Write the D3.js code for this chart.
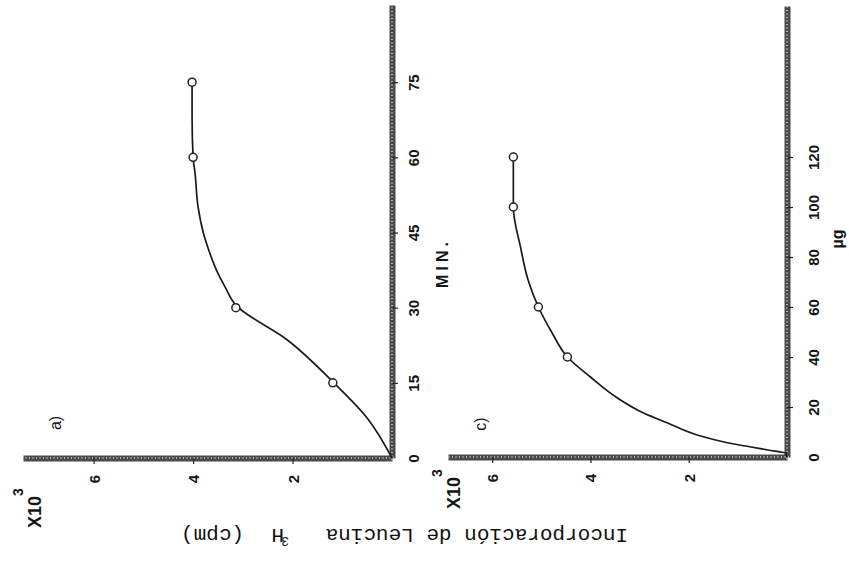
<!DOCTYPE html>
<html>
<head>
<meta charset="utf-8">
<title>Incorporación de Leucina 3H</title>
<script src="https://cdn.jsdelivr.net/npm/d3@7"></script>
<style>
  body { margin: 0; background: #fff; }
  svg { display: block; }
  .tick text, .lbl { font-family: "Liberation Sans", Arial, sans-serif; font-size: 15px; font-weight: bold; fill: #151515; }
  .tick line { stroke: #222; stroke-width: 1.2; }
  .mono { font-family: "Liberation Mono", "Courier New", monospace; font-size: 21px; fill: #111; }
</style>
</head>
<body>
<div id="chart"></div>
<script>
// the page is scanned rotated: time/dose runs up, cpm runs left

// a) cpm (x10^3) vs minutes
const minutosA = [15, 30, 60, 75];
const cpmA = [1.19, 3.14, 4.0, 4.02];
// hand drawn curve
const curvaMinA = [0, 8, 15.2, 23.6, 30.5, 34.2, 37.5, 40.8, 44.8, 50.1, 56.8, 60.1, 68, 75.2];
const curvaCpmA = [0, 0.5, 1.19, 2.11, 3.14, 3.36, 3.53, 3.66, 3.79, 3.9, 3.96, 4.0, 4.02, 4.02];
const ticksMinA = [0, 15, 30, 45, 60, 75];

// c) cpm (x10^3) vs µg
const ugC = [40, 60, 100, 120];
const cpmC = [4.47, 5.06, 5.57, 5.57];
const curvaUgC = [0, 1.5, 2.8, 4.1, 5.2, 8.4, 13.6, 17.6, 23.6, 32, 40, 49.6, 60, 70.8, 83.6, 100, 120];
const curvaCpmC = [0, 0.02, 0.39, 0.76, 1.08, 1.76, 2.43, 2.92, 3.45, 4.0, 4.47, 4.78, 5.06, 5.27, 5.42, 5.57, 5.57];
const ticksUgC = [0, 20, 40, 60, 80, 100, 120];

const ticksCpm = [2, 4, 6];

const W = 849, H = 563;
const svg = d3.select("#chart").append("svg")
    .attr("width", W)
    .attr("height", H);

function texture(g, x1, y1, x2, y2) {
    g.append("line")
        .attr("x1", x1).attr("y1", y1).attr("x2", x2).attr("y2", y2)
        .attr("stroke", "#d6d6d6")
        .attr("stroke-width", 1.6)
        .attr("stroke-dasharray", "1 2.5");
}

function panel(p) {
    const t = d3.scaleLinear().domain(p.tDomain).range(p.tRange);
    const v = d3.scaleLinear().domain(p.vDomain).range(p.vRange);
    const g = svg.append("g");

    // time / dose axis (vertical in the scan)
    const ta = g.append("g")
        .attr("transform", `translate(${p.vRange[0]},0)`)
        .call(d3.axisRight(t).tickValues(p.tTicks).tickFormat(d3.format("d"))
            .tickSize(6).tickSizeOuter(0));
    ta.selectAll(".tick text")
        .attr("x", null).attr("dy", null)
        .attr("text-anchor", "middle")
        .attr("dominant-baseline", "central")
        .attr("transform", `translate(${p.tLabelOff},0) rotate(-90)`);
    ta.select(".tick line").remove();

    // cpm axis (horizontal in the scan)
    const va = g.append("g")
        .attr("transform", `translate(0,${p.tRange[0]})`)
        .call(d3.axisBottom(v).tickValues(ticksCpm).tickFormat(d3.format("d"))
            .tickSize(6).tickSizeOuter(0));
    va.selectAll(".tick text")
        .attr("y", null).attr("dy", null)
        .attr("text-anchor", "middle")
        .attr("dominant-baseline", "central")
        .attr("transform", "translate(0,21) rotate(-90)");

    [ta, va].forEach(a => a.select(".domain")
        .attr("stroke", "#4a4a4a")
        .attr("stroke-width", 6));
    texture(g, p.vRange[0], p.tRange[0] + 2, p.vRange[0], p.tRange[1]);
    texture(g, p.vRange[0] + 2, p.tRange[0], p.vRange[1], p.tRange[0]);

    const curva = p.curvaT.map((d, i) => [d, p.curvaV[i]]);
    g.append("path")
        .datum(curva)
        .attr("fill", "none")
        .attr("stroke", "#1a1a1a")
        .attr("stroke-width", 1.7)
        .attr("d", d3.line()
            .x(d => v(d[1]))
            .y(d => t(d[0]))
            .curve(d3.curveMonotoneY));

    g.selectAll("circle.pt")
        .data(p.ptT.map((d, i) => [d, p.ptV[i]]))
        .join("circle")
        .attr("class", "pt")
        .attr("cx", d => v(d[1]))
        .attr("cy", d => t(d[0]))
        .attr("r", 4)
        .attr("fill", "#fff")
        .attr("stroke", "#222")
        .attr("stroke-width", 1.5);

    // panel letter
    g.append("text").attr("class", "lbl")
        .attr("transform", `translate(${p.letter[0]},${p.letter[1]}) rotate(-90)`)
        .attr("text-anchor", "middle").attr("dominant-baseline", "central")
        .style("font-size", "16px").style("font-weight", "normal")
        .text(p.letterText);

    // X10^3
    g.append("text").attr("class", "lbl")
        .attr("transform", `translate(${p.x10[0]},${p.x10[1]}) rotate(-90)`)
        .attr("text-anchor", "middle").attr("dominant-baseline", "central")
        .style("font-size", "18px")
        .text("X10");
    g.append("text").attr("class", "lbl")
        .attr("transform", `translate(${p.x10[0] - 17},${p.x10[1] - 20}) rotate(-90)`)
        .attr("text-anchor", "middle").attr("dominant-baseline", "central")
        .style("font-size", "14px")
        .text("3");

    // unit label
    g.append("text").attr("class", "lbl")
        .attr("transform", `translate(${p.unit[0]},${p.unit[1]}) rotate(-90)`)
        .attr("text-anchor", "middle").attr("dominant-baseline", "central")
        .style("font-size", "16px")
        .style("letter-spacing", p.unitSpacing)
        .text(p.unitText);
}

panel({
    tDomain: [0, 90.4], tRange: [458, 5],
    vDomain: [0, 7.42], vRange: [392, 23],
    tTicks: ticksMinA, tLabelOff: 21,
    curvaT: curvaMinA, curvaV: curvaCpmA,
    ptT: minutosA, ptV: cpmA,
    letter: [55, 423], letterText: "a)",
    x10: [35, 512],
    unit: [442, 263], unitText: "MIN.", unitSpacing: "4px"
});

panel({
    tDomain: [0, 180.4], tRange: [457, 6],
    vDomain: [0, 6.9], vRange: [787, 448],
    tTicks: ticksUgC, tLabelOff: 26,
    curvaT: curvaUgC, curvaV: curvaCpmC,
    ptT: ugC, ptV: cpmC,
    letter: [480, 424], letterText: "c)",
    x10: [454, 493],
    unit: [837, 239], unitText: "µg", unitSpacing: "0px"
});

// shared cpm label, upside down in the scan
svg.append("text").attr("class", "mono")
    .attr("transform", "translate(628,529) rotate(180)")
    .text("Incorporación de Leucina");
svg.append("text").attr("class", "mono")
    .attr("transform", "translate(289,537) rotate(180)")
    .style("font-size", "13px")
    .text("3");
svg.append("text").attr("class", "mono")
    .attr("transform", "translate(284,529) rotate(180)")
    .text("H");
svg.append("text").attr("class", "mono")
    .attr("transform", "translate(244,529) rotate(180)")
    .text("(cpm)");
</script>
</body>
</html>
